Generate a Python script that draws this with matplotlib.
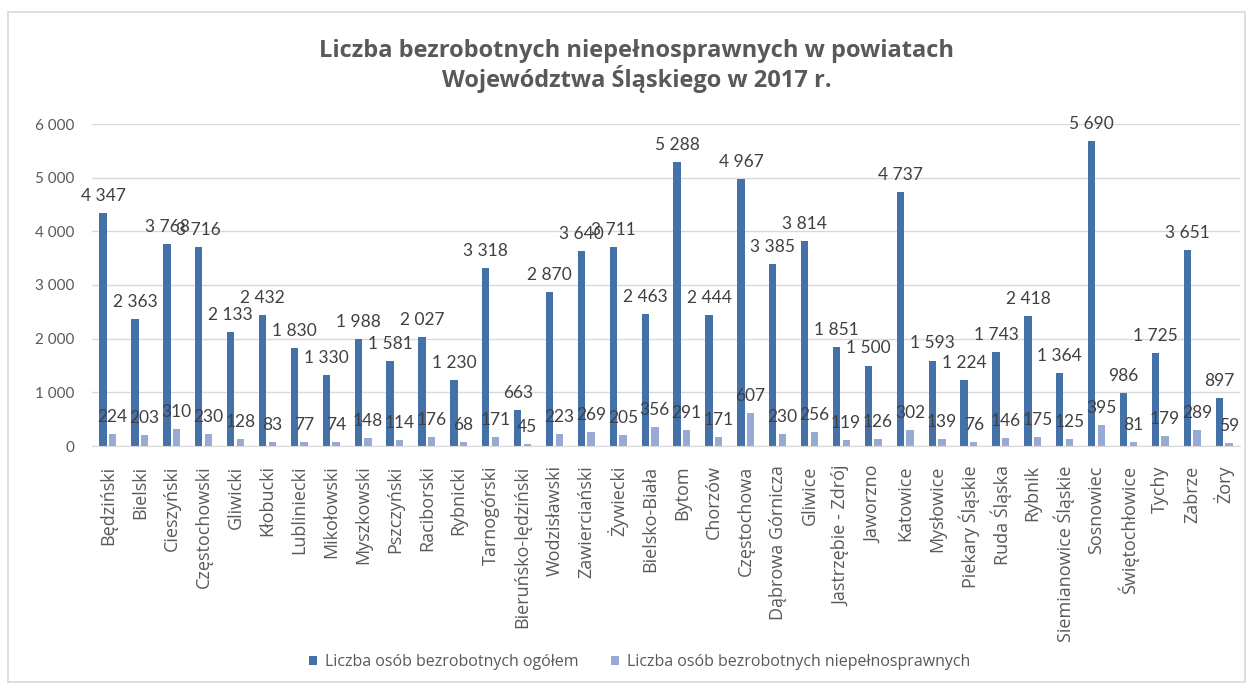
import numpy as np
import matplotlib.pyplot as plt
from matplotlib.patches import Rectangle
from matplotlib.ticker import FuncFormatter

# dane - powiaty
powiaty = ['Będziński', 'Bielski', 'Cieszyński', 'Częstochowski', 'Gliwicki', 'Kłobucki',
           'Lubliniecki', 'Mikołowski', 'Myszkowski', 'Pszczyński', 'Raciborski', 'Rybnicki',
           'Tarnogórski', 'Bieruńsko-lędziński', 'Wodzisławski', 'Zawierciański', 'Żywiecki',
           'Bielsko-Biała', 'Bytom', 'Chorzów', 'Częstochowa', 'Dąbrowa Górnicza', 'Gliwice',
           'Jastrzębie - Zdrój', 'Jaworzno', 'Katowice', 'Mysłowice', 'Piekary Śląskie',
           'Ruda Śląska', 'Rybnik', 'Siemianowice Śląskie', 'Sosnowiec', 'Świętochłowice',
           'Tychy', 'Zabrze', 'Żory']
ogolem = [4347, 2363, 3768, 3716, 2133, 2432, 1830, 1330, 1988, 1581, 2027, 1230,
          3318, 663, 2870, 3640, 3711, 2463, 5288, 2444, 4967, 3385, 3814, 1851,
          1500, 4737, 1593, 1224, 1743, 2418, 1364, 5690, 986, 1725, 3651, 897]
niepelnosprawni = [224, 203, 310, 230, 128, 83, 77, 74, 148, 114, 176, 68,
                   171, 45, 223, 269, 205, 356, 291, 171, 607, 230, 256, 119,
                   126, 302, 139, 76, 146, 175, 125, 395, 81, 179, 289, 59]
seria1 = 'Liczba osób bezrobotnych ogółem'
seria2 = 'Liczba osób bezrobotnych niepełnosprawnych'

plt.rcParams['font.family'] = ['Open Sans', 'DejaVu Sans']
szary = '#595959'

def fmt(v):
    return f'{int(v):,}'.replace(',', ' ')

fig = plt.figure(figsize=(12.49, 6.84), dpi=100)
# ramka wykresu
fig.patches.append(Rectangle((8 / 1249, 2 / 684), 1237 / 1249, 670 / 684, transform=fig.transFigure,
                             fill=False, edgecolor='#D9D9D9', linewidth=1.2))
ax = fig.add_axes([92 / 1249, 238 / 684, 1148 / 1249, 322 / 684])

x = np.arange(len(powiaty))
w = 0.23
b1 = ax.bar(x - 0.15, ogolem, w, color='#4571A9', label=seria1, zorder=2)
b2 = ax.bar(x + 0.15, niepelnosprawni, w, color='#96AAD3', label=seria2, zorder=2)

# etykiety danych
for bars, vals in [(b1, ogolem), (b2, niepelnosprawni)]:
    for rect, v in zip(bars, vals):
        ax.annotate(fmt(v), (rect.get_x() + rect.get_width() / 2, v), xytext=(0, 6.5),
                    textcoords='offset points', ha='center', va='bottom', fontsize=12.5,
                    color='#404040', family=['Lato', 'DejaVu Sans'])

ax.set_ylim(0, 6000)
ax.set_xlim(-0.5, len(powiaty) - 0.5)
ax.set_yticks(np.arange(0, 6001, 1000))
ax.yaxis.set_major_formatter(FuncFormatter(lambda v, p: fmt(v)))
ax.grid(axis='y', color='#D9D9D9', linewidth=1, zorder=0)
for s in ['top', 'right', 'left']:
    ax.spines[s].set_visible(False)
ax.spines['bottom'].set_color('#D9D9D9')
ax.tick_params(axis='y', length=0, labelsize=11, labelcolor=szary, pad=13)
ax.tick_params(axis='x', length=0, labelsize=13, labelcolor=szary, pad=14)
ax.set_xticks(x)
ax.set_xticklabels(powiaty, rotation=90)
for t in ax.get_yticklabels():
    t.set_family(['Lato', 'DejaVu Sans'])

fig.text(0.51, 1 - 66 / 684, 'Liczba bezrobotnych niepełnosprawnych w powiatach\nWojewództwa Śląskiego w 2017 r.',
         ha='center', va='center', fontsize=17, fontweight='bold', color=szary, linespacing=1.12)

fig.legend(handles=[b1, b2], loc='center', bbox_to_anchor=(0.512, 1 - 662 / 684), ncol=2, frameon=False,
           fontsize=11.5, labelcolor=szary, handlelength=0.5, handleheight=0.5, columnspacing=2.0,
           handletextpad=0.5)

plt.savefig('out.png', dpi=100)
